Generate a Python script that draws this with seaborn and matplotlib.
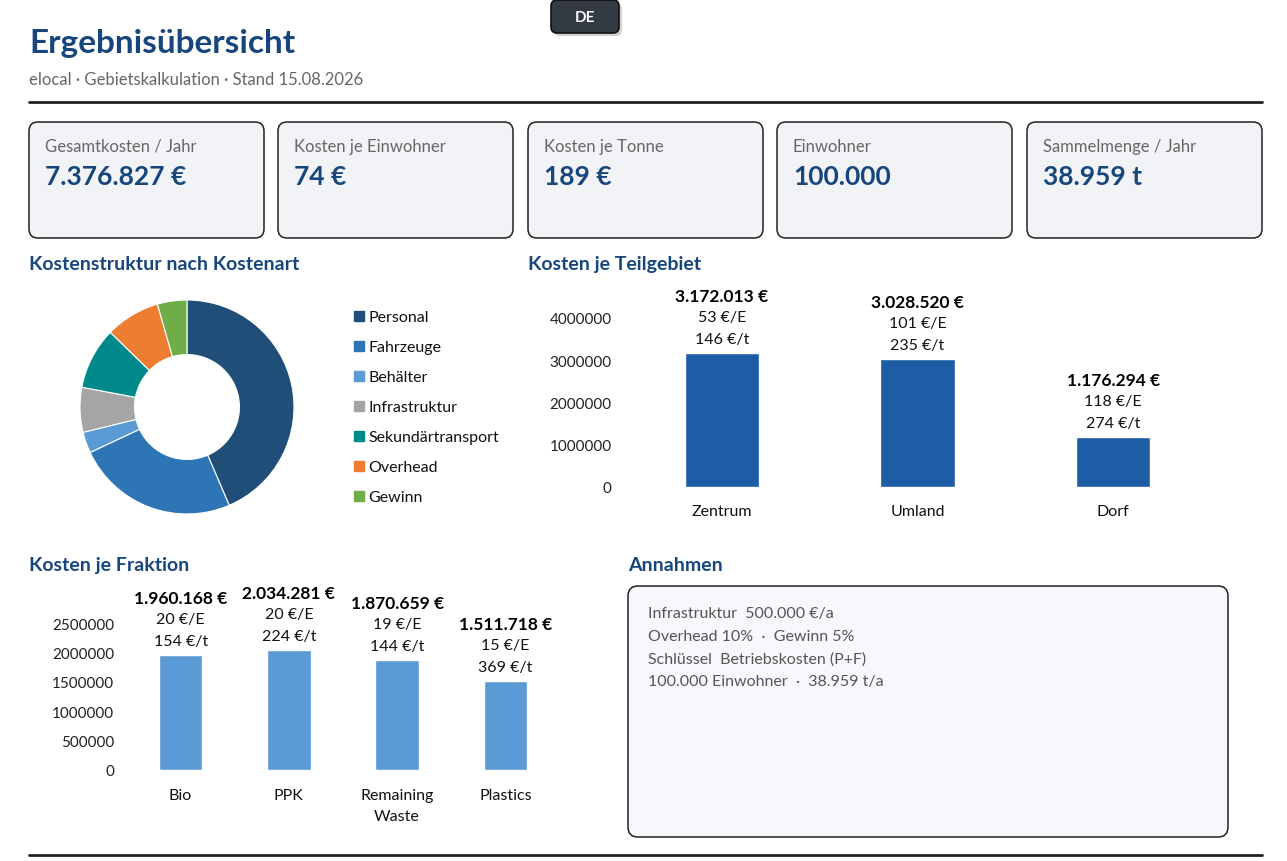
import seaborn as sns
import matplotlib.pyplot as plt
from matplotlib.patches import FancyBboxPatch, Rectangle

W, H = 1287, 862

# --- data -------------------------------------------------------------
kpi_labels = ["Gesamtkosten / Jahr", "Kosten je Einwohner", "Kosten je Tonne",
              "Einwohner", "Sammelmenge / Jahr"]
kpi_values = ["7.376.827 €", "74 €", "189 €", "100.000", "38.959 t"]

cost_types = ["Personal", "Fahrzeuge", "Behälter", "Infrastruktur",
              "Sekundärtransport", "Overhead", "Gewinn"]
cost_values = [3220000, 1810000, 235000, 500000, 690000, 610000, 330000]
cost_colors = ["#1F4E79", "#2E75B6", "#5B9BD5", "#A5A5A5",
               "#00898A", "#ED7D31", "#70AD47"]

areas = ["Zentrum", "Umland", "Dorf"]
area_costs = [3172013, 3028520, 1176294]
area_per_inh = [53, 101, 118]
area_per_t = [146, 235, 274]

fractions = ["Bio", "PPK", "Remaining\nWaste", "Plastics"]
fraction_costs = [1960168, 2034281, 1870659, 1511718]
fraction_per_inh = [20, 20, 19, 15]
fraction_per_t = [154, 224, 144, 369]

assumptions = [
    "Infrastruktur  500.000 €/a",
    "Overhead 10%  ·  Gewinn 5%",
    "Schlüssel  Betriebskosten (P+F)",
    "100.000 Einwohner  ·  38.959 t/a",
]

NAVY = "#17467D"
GREY = "#666666"

sns.set_style("white")
plt.rcParams["font.family"] = ["Lato", "DejaVu Sans"]


def eur(v):
    return f"{v:,}".replace(",", ".") + " €"


def ax_px(left, top, right, bottom):
    return fig.add_axes([left / W, 1 - bottom / H, (right - left) / W, (bottom - top) / H])


fig = plt.figure(figsize=(W / 100, H / 100), dpi=100)

# background layer in pixel coordinates
bg = fig.add_axes([0, 0, 1, 1])
bg.set_xlim(0, W)
bg.set_ylim(H, 0)
bg.axis("off")

# language badge
bg.add_patch(FancyBboxPatch((554, 4), 68, 33, boxstyle="round,pad=0,rounding_size=6",
                            fc="#000000", ec="none", alpha=0.18))
bg.add_patch(FancyBboxPatch((551, 1), 68, 33, boxstyle="round,pad=0,rounding_size=6",
                            fc="#343A44", ec="#111111", lw=1.2))
bg.text(585, 17.5, "DE", color="white", fontsize=11, fontweight="bold", ha="center", va="center")

# header
bg.text(29, 44, "Ergebnisübersicht", color=NAVY, fontsize=24, fontweight="bold", va="center")
bg.text(29, 80, "elocal · Gebietskalkulation · Stand 15.08.2026", color=GREY, fontsize=12, va="center")
bg.plot([29, 1262], [103, 103], color="#222222", lw=2)
bg.plot([29, 1262], [856, 856], color="#222222", lw=2)

# KPI cards
card_x = [29, 278, 528, 777, 1027]
for x, lab, val in zip(card_x, kpi_labels, kpi_values):
    bg.add_patch(FancyBboxPatch((x, 123), 235, 116, boxstyle="round,pad=0,rounding_size=9",
                                fc="#F2F3F7", ec="#222222", lw=1.1))
    bg.text(x + 16, 147, lab, color=GREY, fontsize=12, va="center")
    bg.text(x + 16, 177, val, color=NAVY, fontsize=19, fontweight="bold", va="center")

# section titles
for x, y, t in [(29, 265, "Kostenstruktur nach Kostenart"), (528, 265, "Kosten je Teilgebiet"),
                (29, 566, "Kosten je Fraktion"), (628, 566, "Annahmen")]:
    bg.text(x, y, t, color=NAVY, fontsize=14, fontweight="bold", va="center")

# donut
ax = ax_px(80, 301, 294, 515)
ax.pie(cost_values, colors=cost_colors, startangle=90, counterclock=False, radius=1,
       wedgeprops=dict(width=0.51, edgecolor="white", linewidth=0.8))
ax.set_xlim(-1, 1)
ax.set_ylim(-1, 1)
ax.set_aspect("equal")

for i, (name, c) in enumerate(zip(cost_types, cost_colors)):
    y = 317 + 30 * i
    bg.add_patch(Rectangle((354, y - 5), 10, 10, color=c))
    bg.text(368, y + 1, name, fontsize=11.5, color="#111111", va="center")


def bar_panel(ax, cats, costs, per_inh, per_t, color, width, ymax, yticks, xpad):
    sns.barplot(x=cats, y=costs, ax=ax, color=color, width=width, saturation=1)
    ax.set_xlim(-0.5, len(cats) - 0.5)
    ax.set_ylim(0, ymax)
    ax.set_yticks(yticks)
    ax.set_yticklabels([str(t) for t in yticks])
    ax.set_xlabel("")
    ax.set_ylabel("")
    ax.patch.set_alpha(0)
    sns.despine(ax=ax, left=True, bottom=True)
    ax.tick_params(axis="y", length=0, pad=9, labelsize=11, labelcolor="#222222")
    ax.tick_params(axis="x", length=0, pad=xpad, labelsize=11.5, labelcolor="#111111")
    for lab in ax.get_xticklabels():
        lab.set_linespacing(1.65)
    for i, (c, e, t) in enumerate(zip(costs, per_inh, per_t)):
        ax.annotate(f"{t} €/t", (i, c), xytext=(0, 10), textcoords="offset points",
                    ha="center", va="center", fontsize=11.5, color="#111111")
        ax.annotate(f"{e} €/E", (i, c), xytext=(0, 26), textcoords="offset points",
                    ha="center", va="center", fontsize=11.5, color="#111111")
        ax.annotate(eur(c), (i, c), xytext=(0, 41), textcoords="offset points",
                    ha="center", va="center", fontsize=12.5, fontweight="bold", color="#000000")


ax2 = ax_px(624, 488 - 4.7 * 42.25, 1211, 488)
bar_panel(ax2, areas, area_costs, area_per_inh, area_per_t, "#1C5DA6", 0.38, 4.7e6,
          [0, 1000000, 2000000, 3000000, 4000000], 12)

ax3 = ax_px(126.5, 771 - 3.0 * 58.8, 559.5, 771)
bar_panel(ax3, fractions, fraction_costs, fraction_per_inh, fraction_per_t, "#5B9BD5", 0.4, 3.0e6,
          [0, 500000, 1000000, 1500000, 2000000, 2500000], 13)

# assumptions box
bg.add_patch(FancyBboxPatch((628, 587), 600, 251, boxstyle="round,pad=0,rounding_size=10",
                            fc="#F7F8FC", ec="#222222", lw=1.1))
for i, line in enumerate(assumptions):
    bg.text(648, 614 + 22.7 * i, line, color="#555555", fontsize=11.5, va="center")

fig.savefig("out.png", dpi=100)
